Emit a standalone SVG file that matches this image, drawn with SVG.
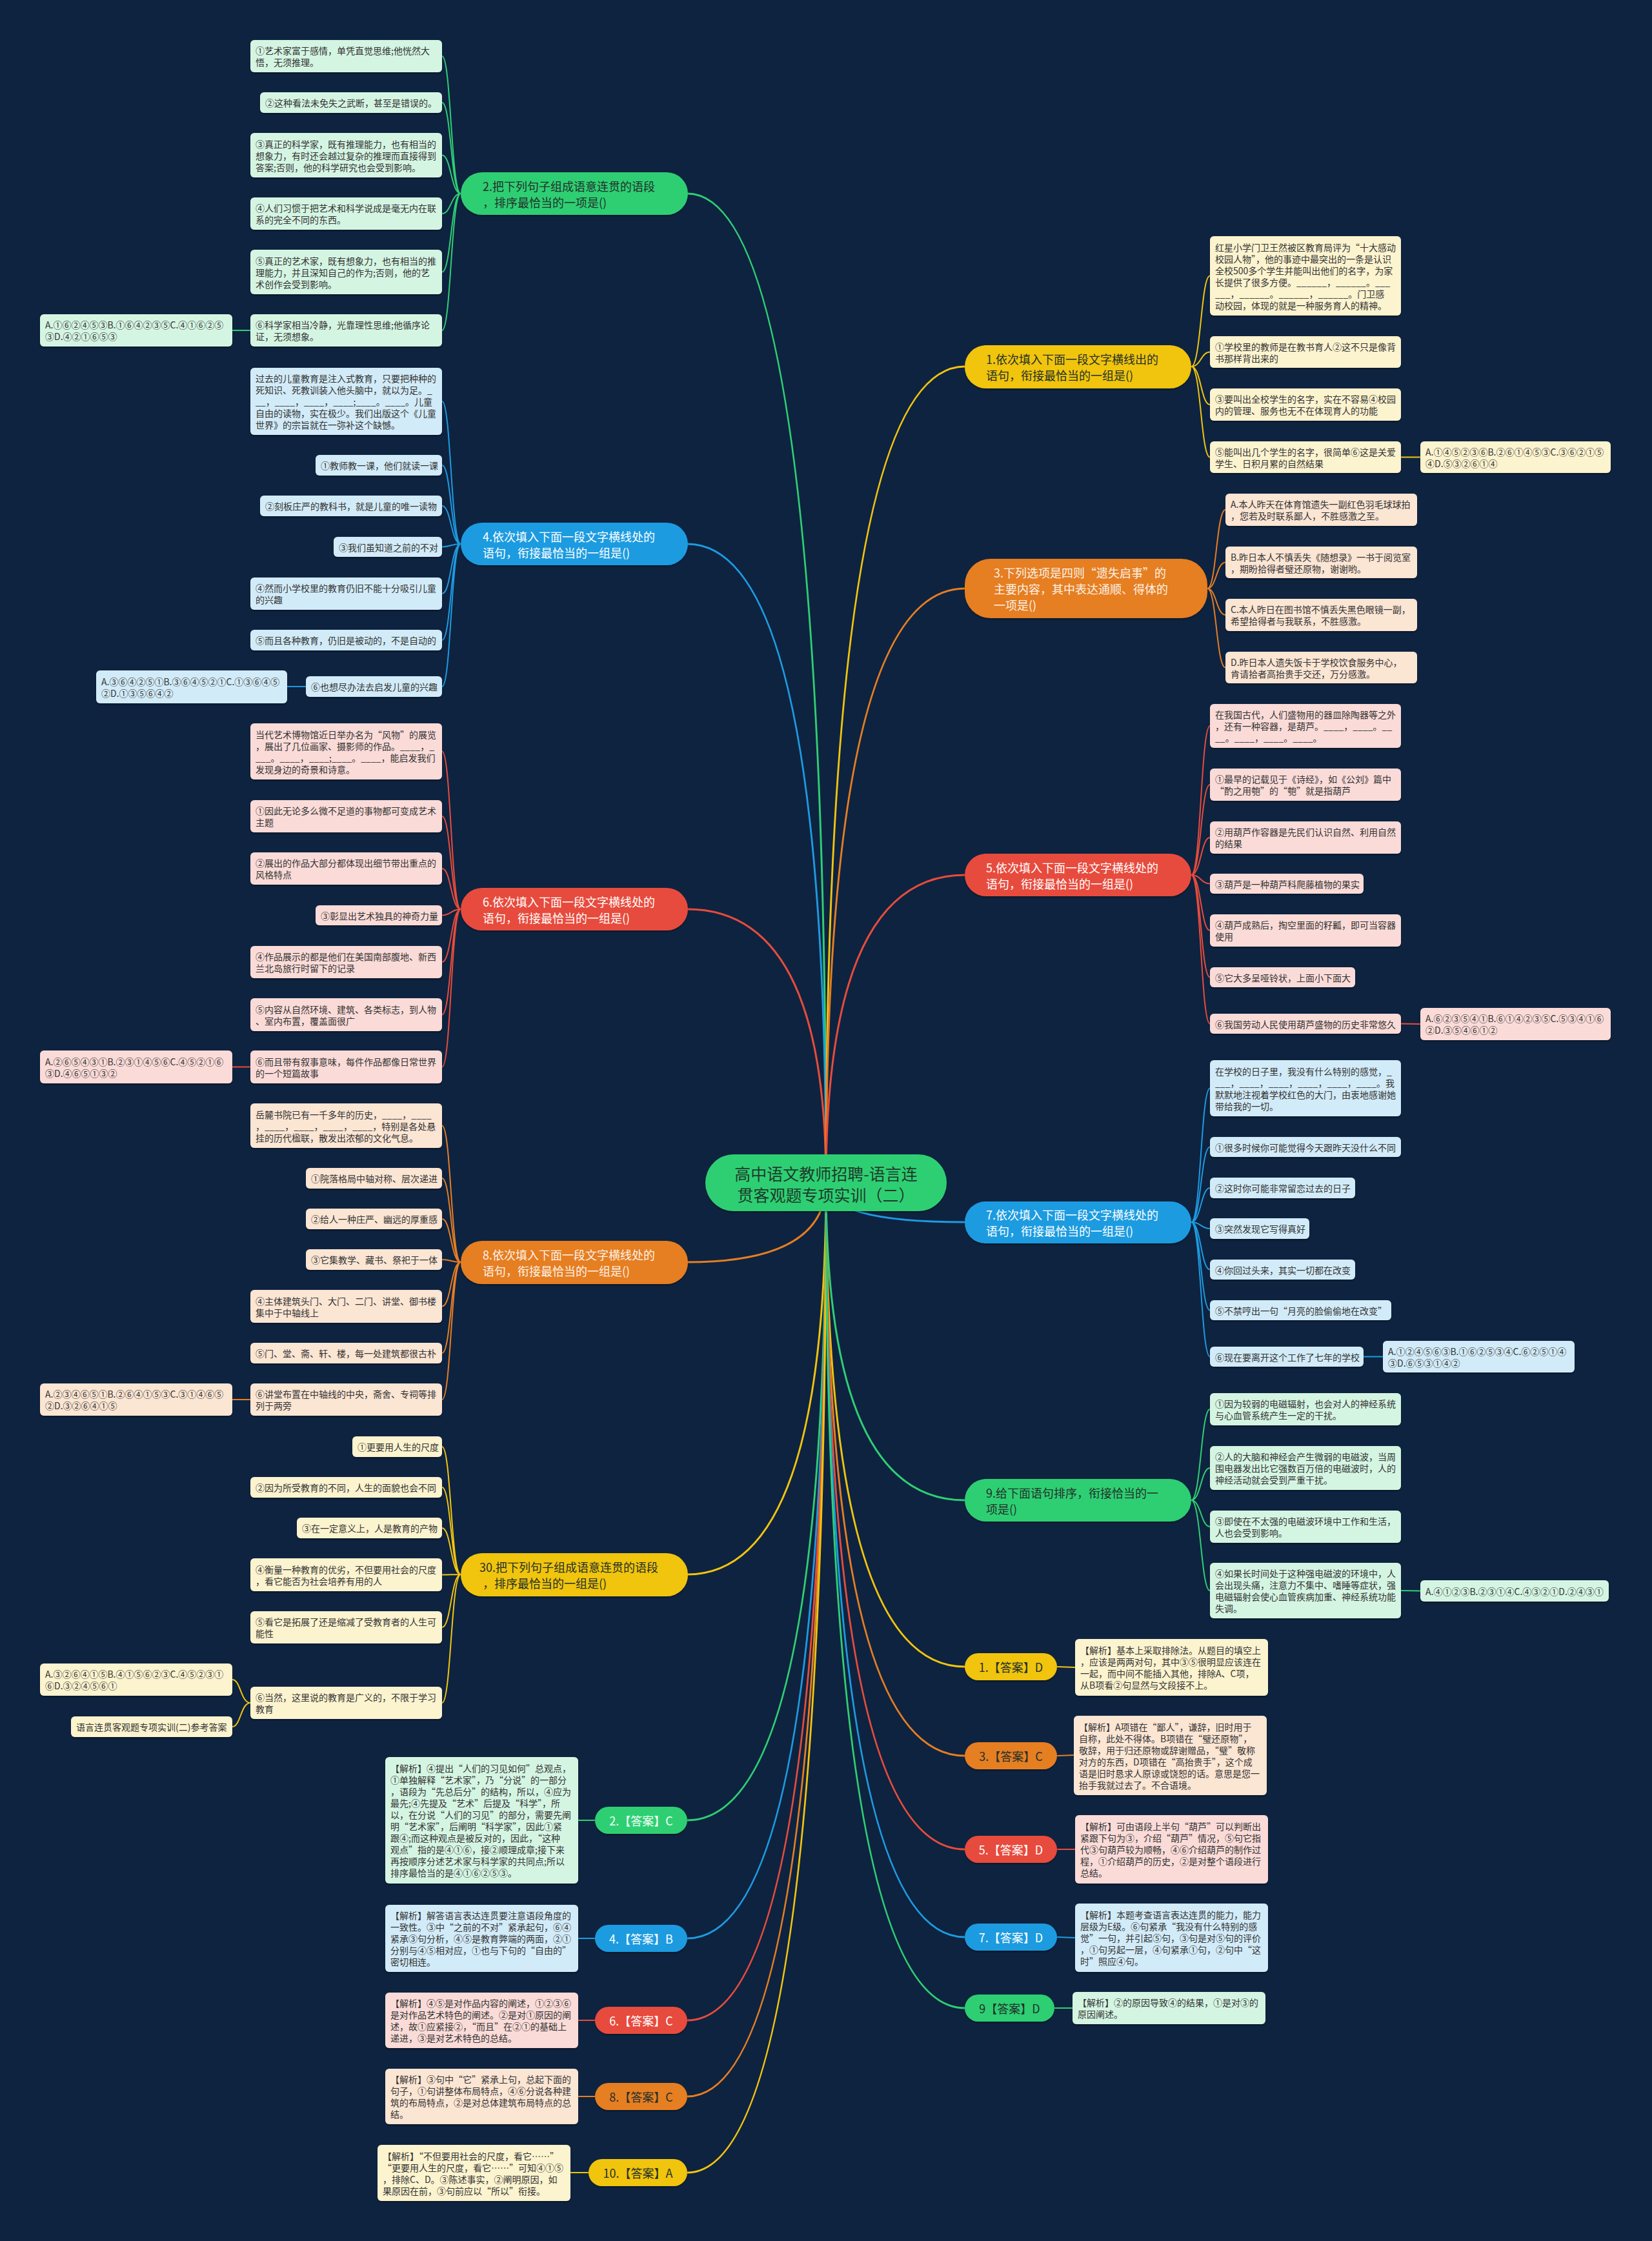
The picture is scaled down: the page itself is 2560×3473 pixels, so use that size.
<svg xmlns="http://www.w3.org/2000/svg" width="2560" height="3473" viewBox="0 0 2560 3473">
<defs>
<filter id="sh" x="-5%" y="-10%" width="110%" height="130%"><feDropShadow dx="0" dy="2" stdDeviation="1.2" flood-color="#000" flood-opacity="0.35"/></filter>
<style>
text{font-family:"Noto Sans CJK SC","Noto Sans",sans-serif;dominant-baseline:central}
.t{font-size:14px;fill:#333}
.e{font-size:14px;fill:#333}
.b{font-size:18px}
.a{font-size:18px;text-anchor:middle}
.c{font-size:25px;fill:#1e3b2a;text-anchor:middle}
.dk{fill:#22302a}
.wt{fill:#ffffff}
.lt{fill:#fbf3e8}
rect{filter:url(#sh)}
.G{fill:#2fcf73}.B{fill:#1d9be0}.R{fill:#e74c3c}.O{fill:#e67e22}.Y{fill:#f1c40f}
.g{fill:#d5f5e3}.bl{fill:#d2ebf8}.r{fill:#fadbd8}.o{fill:#fbe5d3}.y{fill:#fcf3cf}
.k{fill:none;stroke-width:3}
.s{fill:none;stroke-width:2}
.kG{stroke:#2fcf73}.kB{stroke:#1d9be0}.kR{stroke:#e74c3c}.kO{stroke:#e67e22}.kY{stroke:#f1c40f}
</style>
</defs>
<rect x="0" y="0" width="2560" height="3473" fill="#0e2340" style="filter:none"/>

<g id="connectors">
<path class="k kG" d="M1280 1833 Q1280 300 1065 300"/>
<path class="k kB" d="M1280 1833 Q1280 843 1065 843"/>
<path class="k kR" d="M1280 1833 Q1280 1409 1065 1409"/>
<path class="k kO" d="M1280 1833 Q1280 1956 1065 1956"/>
<path class="k kY" d="M1280 1833 Q1280 2440 1065 2440"/>
<path class="k kY" d="M1280 1833 Q1280 568 1495 568"/>
<path class="k kO" d="M1280 1833 Q1280 912 1495 912"/>
<path class="k kR" d="M1280 1833 Q1280 1356 1495 1356"/>
<path class="k kB" d="M1280 1833 Q1280 1894 1495 1894"/>
<path class="k kG" d="M1280 1833 Q1280 2325 1495 2325"/>
<path class="k kG" d="M1280 1833 Q1280 2821 1065 2821"/>
<path class="k kB" d="M1280 1833 Q1280 3004 1065 3004"/>
<path class="k kR" d="M1280 1833 Q1280 3131 1065 3131"/>
<path class="k kO" d="M1280 1833 Q1280 3249 1065 3249"/>
<path class="k kY" d="M1280 1833 Q1280 3367 1065 3367"/>
<path class="k kY" d="M1280 1833 Q1280 2583 1495 2583"/>
<path class="k kO" d="M1280 1833 Q1280 2721 1495 2721"/>
<path class="k kR" d="M1280 1833 Q1280 2866 1495 2866"/>
<path class="k kB" d="M1280 1833 Q1280 3002 1495 3002"/>
<path class="k kG" d="M1280 1833 Q1280 3112 1495 3112"/>

<path class="s kG" d="M714 300 C699 300 699 87 685 87 M714 300 C699 300 699 159 685 159 M714 300 C699 300 699 240.5 685 240.5 M714 300 C699 300 699 331 685 331 M714 300 C699 300 699 421.5 685 421.5 M714 300 C699 300 699 512 685 512 M388 512 L360 512"/>
<path class="s kB" d="M714 843 C699 843 699 622 685 622 M714 843 C699 843 699 721 685 721 M714 843 C699 843 699 784 685 784 M714 843 C699 843 699 847.5 685 847.5 M714 843 C699 843 699 920 685 920 M714 843 C699 843 699 992 685 992 M714 843 C699 843 699 1064 685 1064 M474 1064 L445 1064"/>
<path class="s kR" d="M714 1409 C699 1409 699 1164.5 685 1164.5 M714 1409 C699 1409 699 1265 685 1265 M714 1409 C699 1409 699 1346 685 1346 M714 1409 C699 1409 699 1418.5 685 1418.5 M714 1409 C699 1409 699 1491 685 1491 M714 1409 C699 1409 699 1572.5 685 1572.5 M714 1409 C699 1409 699 1653.5 685 1653.5 M388 1653.5 L360 1653.5"/>
<path class="s kO" d="M714 1956 C699 1956 699 1744.5 685 1744.5 M714 1956 C699 1956 699 1826 685 1826 M714 1956 C699 1956 699 1889 685 1889 M714 1956 C699 1956 699 1952 685 1952 M714 1956 C699 1956 699 2024.5 685 2024.5 M714 1956 C699 1956 699 2097 685 2097 M714 1956 C699 1956 699 2169 685 2169 M388 2169 L360 2169"/>
<path class="s kY" d="M714 2440 C699 2440 699 2242 685 2242 M714 2440 C699 2440 699 2305 685 2305 M714 2440 C699 2440 699 2368 685 2368 M714 2440 C699 2440 699 2440.5 685 2440.5 M714 2440 C699 2440 699 2522 685 2522 M714 2440 C699 2440 699 2639 685 2639 M388 2639 C373 2639 373 2603 360 2603 M388 2639 C373 2639 373 2676 360 2676"/>
<path class="s kY" d="M1846 568 C1861 568 1861 427.5 1875 427.5 M1846 568 C1861 568 1861 545.5 1875 545.5 M1846 568 C1861 568 1861 627 1875 627 M1846 568 C1861 568 1861 708.5 1875 708.5 M2171 708.5 L2201 708.5"/>
<path class="s kO" d="M1871 912 C1885 912 1885 790 1899 790 M1871 912 C1885 912 1885 871.5 1899 871.5 M1871 912 C1885 912 1885 953 1899 953 M1871 912 C1885 912 1885 1034.5 1899 1034.5"/>
<path class="s kR" d="M1846 1356 C1861 1356 1861 1125 1875 1125 M1846 1356 C1861 1356 1861 1216 1875 1216 M1846 1356 C1861 1356 1861 1298 1875 1298 M1846 1356 C1861 1356 1861 1369.5 1875 1369.5 M1846 1356 C1861 1356 1861 1442 1875 1442 M1846 1356 C1861 1356 1861 1514.5 1875 1514.5 M1846 1356 C1861 1356 1861 1586.5 1875 1586.5 M2171 1586.5 L2201 1587"/>
<path class="s kB" d="M1846 1894 C1861 1894 1861 1686.5 1875 1686.5 M1846 1894 C1861 1894 1861 1777.5 1875 1777.5 M1846 1894 C1861 1894 1861 1841 1875 1841 M1846 1894 C1861 1894 1861 1904 1875 1904 M1846 1894 C1861 1894 1861 1967.5 1875 1967.5 M1846 1894 C1861 1894 1861 2030.5 1875 2030.5 M1846 1894 C1861 1894 1861 2102.5 1875 2102.5 M2113 2102.5 L2143 2102.5"/>
<path class="s kG" d="M1846 2325 C1861 2325 1861 2184 1875 2184 M1846 2325 C1861 2325 1861 2275 1875 2275 M1846 2325 C1861 2325 1861 2366 1875 2366 M1846 2325 C1861 2325 1861 2465 1875 2465 M2171 2465 L2201 2465.5"/>

<path class="s kG" d="M922 2821 L896 2821"/>
<path class="s kB" d="M922 3004 L896 3004"/>
<path class="s kR" d="M922 3131 L896 3131"/>
<path class="s kO" d="M922 3249 L896 3249"/>
<path class="s kY" d="M912 3367 L884 3367"/>
<path class="s kY" d="M1638 2583 L1666 2584"/>
<path class="s kO" d="M1638 2721 L1664 2720"/>
<path class="s kR" d="M1638 2866 L1666 2866"/>
<path class="s kB" d="M1638 3002 L1666 3003"/>
<path class="s kG" d="M1634 3112 L1662 3112"/>
</g>

<g id="center">
<rect class="G" x="1093" y="1789" width="374" height="88" rx="44"/>
<text class="c"><tspan x="1280" y="1818">高中语文教师招聘-语言连</tspan><tspan x="1280" y="1851">贯客观题专项实训（二）</tspan></text>
</g>

<!-- Left branches -->
<g id="b2">
<rect class="G" x="714" y="267" width="352" height="66" rx="33"/>
<text class="b dk"><tspan x="748" y="287.5">2.把下列句子组成语意连贯的语段</tspan><tspan x="748" y="312.5">，排序最恰当的一项是()</tspan></text>
</g>
<g id="b4">
<rect class="B" x="714" y="810" width="352" height="66" rx="33"/>
<text class="b wt"><tspan x="748" y="830.5">4.依次填入下面一段文字横线处的</tspan><tspan x="748" y="855.5">语句，衔接最恰当的一组是()</tspan></text>
</g>
<g id="b6">
<rect class="R" x="714" y="1376" width="352" height="66" rx="33"/>
<text class="b wt"><tspan x="748" y="1396.5">6.依次填入下面一段文字横线处的</tspan><tspan x="748" y="1421.5">语句，衔接最恰当的一组是()</tspan></text>
</g>
<g id="b8">
<rect class="O" x="714" y="1923" width="352" height="67" rx="33"/>
<text class="b lt"><tspan x="748" y="1943.5">8.依次填入下面一段文字横线处的</tspan><tspan x="748" y="1968.5">语句，衔接最恰当的一组是()</tspan></text>
</g>
<g id="b10">
<rect class="Y" x="714" y="2407" width="352" height="67" rx="33"/>
<text class="b dk"><tspan x="743" y="2427.5">30.把下列句子组成语意连贯的语段</tspan><tspan x="748" y="2452.5">，排序最恰当的一组是()</tspan></text>
</g>

<!-- Right branches -->
<g id="b1">
<rect class="Y" x="1495" y="535" width="351" height="67" rx="33"/>
<text class="b dk"><tspan x="1528" y="555.5">1.依次填入下面一段文字横线出的</tspan><tspan x="1528" y="580.5">语句，衔接最恰当的一组是()</tspan></text>
</g>
<g id="b3">
<rect class="O" x="1495" y="866" width="376" height="92" rx="40"/>
<text class="b lt"><tspan x="1540" y="887">3.下列选项是四则“遗失启事”的</tspan><tspan x="1540" y="912">主要内容，其中表达通顺、得体的</tspan><tspan x="1540" y="937">一项是()</tspan></text>
</g>
<g id="b5">
<rect class="R" x="1495" y="1323" width="351" height="66" rx="33"/>
<text class="b wt"><tspan x="1528" y="1343.5">5.依次填入下面一段文字横线处的</tspan><tspan x="1528" y="1368.5">语句，衔接最恰当的一组是()</tspan></text>
</g>
<g id="b7">
<rect class="B" x="1495" y="1862" width="351" height="65" rx="32"/>
<text class="b wt"><tspan x="1528" y="1881.5">7.依次填入下面一段文字横线处的</tspan><tspan x="1528" y="1906.5">语句，衔接最恰当的一组是()</tspan></text>
</g>
<g id="b9">
<rect class="G" x="1495" y="2292" width="351" height="66" rx="33"/>
<text class="b dk"><tspan x="1528" y="2312.5">9.给下面语句排序，衔接恰当的一</tspan><tspan x="1528" y="2337.5">项是()</tspan></text>
</g>

<!-- B2 leaves -->
<g id="l2a"><rect class="g" x="388" y="62" width="297" height="50" rx="6"/><text class="t"><tspan x="396" y="78">①艺术家富于感情，单凭直觉思维;他恍然大</tspan><tspan x="396" y="96">悟，无须推理。</tspan></text></g>
<g id="l2b"><rect class="g" x="403" y="143" width="282" height="32" rx="6"/><text class="t"><tspan x="411" y="159">②这种看法未免失之武断，甚至是错误的。</tspan></text></g>
<g id="l2c"><rect class="g" x="388" y="206" width="297" height="69" rx="6"/><text class="t"><tspan x="396" y="222.5">③真正的科学家，既有推理能力，也有相当的</tspan><tspan x="396" y="240.5">想象力，有时还会越过复杂的推理而直接得到</tspan><tspan x="396" y="258.5">答案;否则，他的科学研究也会受到影响。</tspan></text></g>
<g id="l2d"><rect class="g" x="388" y="306" width="297" height="50" rx="6"/><text class="t"><tspan x="396" y="322">④人们习惯于把艺术和科学说成是毫无内在联</tspan><tspan x="396" y="340">系的完全不同的东西。</tspan></text></g>
<g id="l2e"><rect class="g" x="388" y="387" width="297" height="69" rx="6"/><text class="t"><tspan x="396" y="403.5">⑤真正的艺术家，既有想象力，也有相当的推</tspan><tspan x="396" y="421.5">理能力，并且深知自己的作为;否则，他的艺</tspan><tspan x="396" y="439.5">术创作会受到影响。</tspan></text></g>
<g id="l2f"><rect class="g" x="388" y="487" width="297" height="50" rx="6"/><text class="t"><tspan x="396" y="503">⑥科学家相当冷静，光靠理性思维;他循序论</tspan><tspan x="396" y="521">证，无须想象。</tspan></text></g>
<g id="l2g"><rect class="g" x="62" y="487" width="298" height="50" rx="6"/><text class="t"><tspan x="70" y="503">A.①⑥②④⑤③B.①⑥④②③⑤C.④①⑥②⑤</tspan><tspan x="70" y="521">③D.④②①⑥⑤③</tspan></text></g>

<!-- B4 leaves -->
<g id="l4a"><rect class="bl" x="388" y="570" width="297" height="104" rx="6"/><text class="t"><tspan x="396" y="586">过去的儿童教育是注入式教育，只要把种种的</tspan><tspan x="396" y="604">死知识、死教训装入他头脑中，就以为足。_</tspan><tspan x="396" y="622">__，____，____，____;____。____。儿童</tspan><tspan x="396" y="640">自由的读物，实在极少。我们出版这个《儿童</tspan><tspan x="396" y="658">世界》的宗旨就在一弥补这个缺憾。</tspan></text></g>
<g id="l4b"><rect class="bl" x="489" y="705" width="196" height="32" rx="6"/><text class="t"><tspan x="497" y="721">①教师教一课，他们就读一课</tspan></text></g>
<g id="l4c"><rect class="bl" x="403" y="768" width="282" height="32" rx="6"/><text class="t"><tspan x="411" y="784">②刻板庄严的教科书，就是儿童的唯一读物</tspan></text></g>
<g id="l4d"><rect class="bl" x="517" y="832" width="168" height="31" rx="6"/><text class="t"><tspan x="525" y="847.5">③我们虽知道之前的不对</tspan></text></g>
<g id="l4e"><rect class="bl" x="388" y="895" width="297" height="50" rx="6"/><text class="t"><tspan x="396" y="911">④然而小学校里的教育仍旧不能十分吸引儿童</tspan><tspan x="396" y="929">的兴趣</tspan></text></g>
<g id="l4f"><rect class="bl" x="388" y="976" width="297" height="32" rx="6"/><text class="t"><tspan x="396" y="992">⑤而且各种教育，仍旧是被动的，不是自动的</tspan></text></g>
<g id="l4g"><rect class="bl" x="474" y="1048" width="211" height="32" rx="6"/><text class="t"><tspan x="482" y="1064">⑥也想尽办法去启发儿童的兴趣</tspan></text></g>
<g id="l4h"><rect class="bl" x="149" y="1039" width="296" height="51" rx="6"/><text class="t"><tspan x="157" y="1055.5">A.③⑥④②⑤①B.③⑥④⑤②①C.①③⑥④⑤</tspan><tspan x="157" y="1073.5">②D.①③⑤⑥④②</tspan></text></g>

<!-- B6 leaves -->
<g id="l6a"><rect class="r" x="388" y="1121" width="297" height="87" rx="6"/><text class="t"><tspan x="396" y="1137.5">当代艺术博物馆近日举办名为“风物”的展览</tspan><tspan x="396" y="1155.5">，展出了几位画家、摄影师的作品。____，_</tspan><tspan x="396" y="1173.5">___。____，____;____。____，能启发我们</tspan><tspan x="396" y="1191.5">发现身边的奇景和诗意。</tspan></text></g>
<g id="l6b"><rect class="r" x="388" y="1240" width="297" height="50" rx="6"/><text class="t"><tspan x="396" y="1256">①因此无论多么微不足道的事物都可变成艺术</tspan><tspan x="396" y="1274">主题</tspan></text></g>
<g id="l6c"><rect class="r" x="388" y="1321" width="297" height="50" rx="6"/><text class="t"><tspan x="396" y="1337">②展出的作品大部分都体现出细节带出重点的</tspan><tspan x="396" y="1355">风格特点</tspan></text></g>
<g id="l6d"><rect class="r" x="489" y="1403" width="196" height="31" rx="6"/><text class="t"><tspan x="497" y="1418.5">③彰显出艺术独具的神奇力量</tspan></text></g>
<g id="l6e"><rect class="r" x="388" y="1466" width="297" height="50" rx="6"/><text class="t"><tspan x="396" y="1482">④作品展示的都是他们在美国南部腹地、新西</tspan><tspan x="396" y="1500">兰北岛旅行时留下的记录</tspan></text></g>
<g id="l6f"><rect class="r" x="388" y="1547" width="297" height="51" rx="6"/><text class="t"><tspan x="396" y="1563.5">⑤内容从自然环境、建筑、各类标志，到人物</tspan><tspan x="396" y="1581.5">、室内布置，覆盖面很广</tspan></text></g>
<g id="l6g"><rect class="r" x="388" y="1628" width="297" height="51" rx="6"/><text class="t"><tspan x="396" y="1644.5">⑥而且带有叙事意味，每件作品都像日常世界</tspan><tspan x="396" y="1662.5">的一个短篇故事</tspan></text></g>
<g id="l6h"><rect class="r" x="62" y="1628" width="298" height="51" rx="6"/><text class="t"><tspan x="70" y="1644.5">A.②⑥⑤④③①B.②③①④⑤⑥C.④⑤②①⑥</tspan><tspan x="70" y="1662.5">③D.④⑥⑤①③②</tspan></text></g>

<!-- B8 leaves -->
<g id="l8a"><rect class="o" x="388" y="1710" width="297" height="69" rx="6"/><text class="t"><tspan x="396" y="1726.5">岳麓书院已有一千多年的历史，____，____</tspan><tspan x="396" y="1744.5">，____，____，____，____，特别是各处悬</tspan><tspan x="396" y="1762.5">挂的历代楹联，散发出浓郁的文化气息。</tspan></text></g>
<g id="l8b"><rect class="o" x="474" y="1810" width="211" height="32" rx="6"/><text class="t"><tspan x="482" y="1826">①院落格局中轴对称、层次递进</tspan></text></g>
<g id="l8c"><rect class="o" x="474" y="1873" width="211" height="32" rx="6"/><text class="t"><tspan x="482" y="1889">②给人一种庄严、幽远的厚重感</tspan></text></g>
<g id="l8d"><rect class="o" x="474" y="1936" width="211" height="32" rx="6"/><text class="t"><tspan x="482" y="1952">③它集教学、藏书、祭祀于一体</tspan></text></g>
<g id="l8e"><rect class="o" x="388" y="1999" width="297" height="51" rx="6"/><text class="t"><tspan x="396" y="2015.5">④主体建筑头门、大门、二门、讲堂、御书楼</tspan><tspan x="396" y="2033.5">集中于中轴线上</tspan></text></g>
<g id="l8f"><rect class="o" x="388" y="2081" width="297" height="32" rx="6"/><text class="t"><tspan x="396" y="2097">⑤门、堂、斋、轩、楼，每一处建筑都很古朴</tspan></text></g>
<g id="l8g"><rect class="o" x="388" y="2144" width="297" height="50" rx="6"/><text class="t"><tspan x="396" y="2160">⑥讲堂布置在中轴线的中央，斋舍、专祠等排</tspan><tspan x="396" y="2178">列于两旁</tspan></text></g>
<g id="l8h"><rect class="o" x="62" y="2144" width="298" height="50" rx="6"/><text class="t"><tspan x="70" y="2160">A.②③④⑥⑤①B.②⑥④①⑤③C.③①④⑥⑤</tspan><tspan x="70" y="2178">②D.③②⑥④①⑤</tspan></text></g>

<!-- B10 leaves -->
<g id="l10a"><rect class="y" x="546" y="2226" width="139" height="32" rx="6"/><text class="t"><tspan x="554" y="2242">①更要用人生的尺度</tspan></text></g>
<g id="l10b"><rect class="y" x="388" y="2289" width="297" height="32" rx="6"/><text class="t"><tspan x="396" y="2305">②因为所受教育的不同，人生的面貌也会不同</tspan></text></g>
<g id="l10c"><rect class="y" x="460" y="2352" width="225" height="32" rx="6"/><text class="t"><tspan x="468" y="2368">③在一定意义上，人是教育的产物</tspan></text></g>
<g id="l10d"><rect class="y" x="388" y="2415" width="297" height="51" rx="6"/><text class="t"><tspan x="396" y="2431.5">④衡量一种教育的优劣，不但要用社会的尺度</tspan><tspan x="396" y="2449.5">，看它能否为社会培养有用的人</tspan></text></g>
<g id="l10e"><rect class="y" x="388" y="2497" width="297" height="50" rx="6"/><text class="t"><tspan x="396" y="2513">⑤看它是拓展了还是缩减了受教育者的人生可</tspan><tspan x="396" y="2531">能性</tspan></text></g>
<g id="l10f"><rect class="y" x="388" y="2614" width="297" height="50" rx="6"/><text class="t"><tspan x="396" y="2630">⑥当然，这里说的教育是广义的，不限于学习</tspan><tspan x="396" y="2648">教育</tspan></text></g>
<g id="l10g"><rect class="y" x="62" y="2578" width="298" height="50" rx="6"/><text class="t"><tspan x="70" y="2594">A.③②⑥④①⑤B.④①⑤⑥②③C.④⑤②③①</tspan><tspan x="70" y="2612">⑥D.③②④⑤⑥①</tspan></text></g>
<g id="l10h"><rect class="y" x="110" y="2660" width="250" height="32" rx="6"/><text class="t"><tspan x="118" y="2676">语言连贯客观题专项实训(二)参考答案</tspan></text></g>

<!-- B1 leaves -->
<g id="l1a"><rect class="y" x="1875" y="366" width="296" height="123" rx="6"/><text class="t"><tspan x="1883" y="382.5">红星小学门卫王然被区教育局评为“十大感动</tspan><tspan x="1883" y="400.5">校园人物”，他的事迹中最突出的一条是认识</tspan><tspan x="1883" y="418.5">全校500多个学生并能叫出他们的名字，为家</tspan><tspan x="1883" y="436.5">长提供了很多方便。______，______。___</tspan><tspan x="1883" y="454.5">___，______。______，______。门卫感</tspan><tspan x="1883" y="472.5">动校园，体现的就是一种服务育人的精神。</tspan></text></g>
<g id="l1b"><rect class="y" x="1875" y="521" width="296" height="49" rx="6"/><text class="t"><tspan x="1883" y="536.5">①学校里的教师是在教书育人②这不只是像背</tspan><tspan x="1883" y="554.5">书那样背出来的</tspan></text></g>
<g id="l1c"><rect class="y" x="1875" y="602" width="296" height="50" rx="6"/><text class="t"><tspan x="1883" y="618">③要叫出全校学生的名字，实在不容易④校园</tspan><tspan x="1883" y="636">内的管理、服务也无不在体现育人的功能</tspan></text></g>
<g id="l1d"><rect class="y" x="1875" y="684" width="296" height="49" rx="6"/><text class="t"><tspan x="1883" y="699.5">⑤能叫出几个学生的名字，很简单⑥这是关爱</tspan><tspan x="1883" y="717.5">学生、日积月累的自然结果</tspan></text></g>
<g id="l1e"><rect class="y" x="2201" y="684" width="295" height="49" rx="6"/><text class="t"><tspan x="2209" y="699.5">A.①④⑤②③⑥B.②⑥①④⑤③C.③⑥②①⑤</tspan><tspan x="2209" y="717.5">④D.⑤③②⑥①④</tspan></text></g>

<!-- B3 leaves -->
<g id="l3a"><rect class="o" x="1899" y="765" width="297" height="50" rx="6"/><text class="t"><tspan x="1907" y="781">A.本人昨天在体育馆遗失一副红色羽毛球球拍</tspan><tspan x="1907" y="799">，您若及时联系鄙人，不胜感激之至。</tspan></text></g>
<g id="l3b"><rect class="o" x="1899" y="847" width="297" height="49" rx="6"/><text class="t"><tspan x="1907" y="862.5">B.昨日本人不慎丢失《随想录》一书于阅览室</tspan><tspan x="1907" y="880.5">，期盼拾得者璧还原物，谢谢哟。</tspan></text></g>
<g id="l3c"><rect class="o" x="1899" y="928" width="297" height="50" rx="6"/><text class="t"><tspan x="1907" y="944">C.本人昨日在图书馆不慎丢失黑色眼镜一副，</tspan><tspan x="1907" y="962">希望拾得者与我联系，不胜感激。</tspan></text></g>
<g id="l3d"><rect class="o" x="1899" y="1010" width="297" height="49" rx="6"/><text class="t"><tspan x="1907" y="1025.5">D.昨日本人遗失饭卡于学校饮食服务中心，</tspan><tspan x="1907" y="1043.5">肯请拾者高抬贵手交还，万分感激。</tspan></text></g>

<!-- B5 leaves -->
<g id="l5a"><rect class="r" x="1875" y="1091" width="296" height="68" rx="6"/><text class="t"><tspan x="1883" y="1107">在我国古代，人们盛物用的器皿除陶器等之外</tspan><tspan x="1883" y="1125">，还有一种容器，是葫芦。____，____。__</tspan><tspan x="1883" y="1143">__。____，____。____。</tspan></text></g>
<g id="l5b"><rect class="r" x="1875" y="1191" width="296" height="50" rx="6"/><text class="t"><tspan x="1883" y="1207">①最早的记载见于《诗经》，如《公刘》篇中</tspan><tspan x="1883" y="1225">“酌之用匏”的“匏”就是指葫芦</tspan></text></g>
<g id="l5c"><rect class="r" x="1875" y="1273" width="296" height="50" rx="6"/><text class="t"><tspan x="1883" y="1289">②用葫芦作容器是先民们认识自然、利用自然</tspan><tspan x="1883" y="1307">的结果</tspan></text></g>
<g id="l5d"><rect class="r" x="1875" y="1354" width="238" height="31" rx="6"/><text class="t"><tspan x="1883" y="1369.5">③葫芦是一种葫芦科爬藤植物的果实</tspan></text></g>
<g id="l5e"><rect class="r" x="1875" y="1417" width="296" height="50" rx="6"/><text class="t"><tspan x="1883" y="1433">④葫芦成熟后，掏空里面的籽瓤，即可当容器</tspan><tspan x="1883" y="1451">使用</tspan></text></g>
<g id="l5f"><rect class="r" x="1875" y="1499" width="225" height="31" rx="6"/><text class="t"><tspan x="1883" y="1514.5">⑤它大多呈哑铃状，上面小下面大</tspan></text></g>
<g id="l5g"><rect class="r" x="1875" y="1571" width="296" height="31" rx="6"/><text class="t"><tspan x="1883" y="1586.5">⑥我国劳动人民使用葫芦盛物的历史非常悠久</tspan></text></g>
<g id="l5h"><rect class="r" x="2201" y="1562" width="295" height="50" rx="6"/><text class="t"><tspan x="2209" y="1578">A.⑥②③⑤④①B.⑥①④②③⑤C.⑤③④①⑥</tspan><tspan x="2209" y="1596">②D.③⑤④⑥①②</tspan></text></g>

<!-- B7 leaves -->
<g id="l7a"><rect class="bl" x="1875" y="1643" width="296" height="87" rx="6"/><text class="t"><tspan x="1883" y="1659.5">在学校的日子里，我没有什么特别的感觉，_</tspan><tspan x="1883" y="1677.5">___，____，____，____，____，____。我</tspan><tspan x="1883" y="1695.5">默默地注视着学校红色的大门，由衷地感谢她</tspan><tspan x="1883" y="1713.5">带给我的一切。</tspan></text></g>
<g id="l7b"><rect class="bl" x="1875" y="1762" width="296" height="31" rx="6"/><text class="t"><tspan x="1883" y="1777.5">①很多时候你可能觉得今天跟昨天没什么不同</tspan></text></g>
<g id="l7c"><rect class="bl" x="1875" y="1825" width="225" height="32" rx="6"/><text class="t"><tspan x="1883" y="1841">②这时你可能非常留恋过去的日子</tspan></text></g>
<g id="l7d"><rect class="bl" x="1875" y="1888" width="154" height="32" rx="6"/><text class="t"><tspan x="1883" y="1904">③突然发现它写得真好</tspan></text></g>
<g id="l7e"><rect class="bl" x="1875" y="1952" width="225" height="31" rx="6"/><text class="t"><tspan x="1883" y="1967.5">④你回过头来，其实一切都在改变</tspan></text></g>
<g id="l7f"><rect class="bl" x="1875" y="2015" width="281" height="31" rx="6"/><text class="t"><tspan x="1883" y="2030.5">⑤不禁哼出一句“月亮的脸偷偷地在改变”</tspan></text></g>
<g id="l7g"><rect class="bl" x="1875" y="2087" width="238" height="31" rx="6"/><text class="t"><tspan x="1883" y="2102.5">⑥现在要离开这个工作了七年的学校</tspan></text></g>
<g id="l7h"><rect class="bl" x="2143" y="2078" width="297" height="49" rx="6"/><text class="t"><tspan x="2151" y="2093.5">A.①②④⑤⑥③B.①⑥②⑤③④C.⑥②⑤①④</tspan><tspan x="2151" y="2111.5">③D.⑥⑤③①④②</tspan></text></g>

<!-- B9 leaves -->
<g id="l9a"><rect class="g" x="1875" y="2159" width="296" height="50" rx="6"/><text class="t"><tspan x="1883" y="2175">①因为较弱的电磁辐射，也会对人的神经系统</tspan><tspan x="1883" y="2193">与心血管系统产生一定的干扰。</tspan></text></g>
<g id="l9b"><rect class="g" x="1875" y="2241" width="296" height="68" rx="6"/><text class="t"><tspan x="1883" y="2257">②人的大脑和神经会产生微弱的电磁波，当周</tspan><tspan x="1883" y="2275">围电器发出比它强数百万倍的电磁波时，人的</tspan><tspan x="1883" y="2293">神经活动就会受到严重干扰。</tspan></text></g>
<g id="l9c"><rect class="g" x="1875" y="2341" width="296" height="50" rx="6"/><text class="t"><tspan x="1883" y="2357">③即使在不太强的电磁波环境中工作和生活，</tspan><tspan x="1883" y="2375">人也会受到影响。</tspan></text></g>
<g id="l9d"><rect class="g" x="1875" y="2422" width="296" height="86" rx="6"/><text class="t"><tspan x="1883" y="2438">④如果长时间处于这种强电磁波的环境中，人</tspan><tspan x="1883" y="2456">会出现头痛，注意力不集中、嗜睡等症状，强</tspan><tspan x="1883" y="2474">电磁辐射会使心血管疾病加重、神经系统功能</tspan><tspan x="1883" y="2492">失调。</tspan></text></g>
<g id="l9e"><rect class="g" x="2201" y="2449" width="292" height="33" rx="6"/><text class="t"><tspan x="2209" y="2465.5">A.④①②③B.②③①④C.④③②①D.②④③①</tspan></text></g>

<!-- Left answers -->
<g id="a2"><rect class="G" x="922" y="2800" width="143" height="42" rx="21"/><text class="a" fill="#f2fff7" x="993.5" y="2821">2.【答案】C</text></g>
<g id="a4"><rect class="B" x="922" y="2983" width="143" height="42" rx="21"/><text class="a wt" x="993.5" y="3004">4.【答案】B</text></g>
<g id="a6"><rect class="R" x="922" y="3110" width="143" height="42" rx="21"/><text class="a wt" x="993.5" y="3131">6.【答案】C</text></g>
<g id="a8"><rect class="O" x="922" y="3228" width="143" height="42" rx="21"/><text class="a dk" x="993.5" y="3249">8.【答案】C</text></g>
<g id="a10"><rect class="Y" x="912" y="3346" width="153" height="42" rx="21"/><text class="a dk" x="988.5" y="3367">10.【答案】A</text></g>

<g id="e2"><rect class="g" x="597" y="2723" width="299" height="196" rx="6"/><text class="e"><tspan x="605" y="2740">【解析】④提出“人们的习见如何”总观点，</tspan><tspan x="605" y="2758">①单独解释“艺术家”，乃“分说”的一部分</tspan><tspan x="605" y="2776">，语段为“先总后分”的结构，所以，④应为</tspan><tspan x="605" y="2794">最先;④先提及“艺术”后提及“科学”，所</tspan><tspan x="605" y="2812">以，在分说“人们的习见”的部分，需要先阐</tspan><tspan x="605" y="2830">明“艺术家”，后阐明“科学家”，因此①紧</tspan><tspan x="605" y="2848">跟④;而这种观点是被反对的，因此，“这种</tspan><tspan x="605" y="2866">观点”指的是④①⑥，接②顺理成章;接下来</tspan><tspan x="605" y="2884">再按顺序分述艺术家与科学家的共同点;所以</tspan><tspan x="605" y="2902">排序最恰当的是④①⑥②⑤③。</tspan></text></g>
<g id="e4"><rect class="bl" x="597" y="2952" width="299" height="104" rx="6"/><text class="e"><tspan x="605" y="2968">【解析】解答语言表达连贯要注意语段角度的</tspan><tspan x="605" y="2986">一致性。③中“之前的不对”紧承起句，⑥④</tspan><tspan x="605" y="3004">紧承③句分析，④⑤是教育弊端的两面，②①</tspan><tspan x="605" y="3022">分别与④⑤相对应，①也与下句的“自由的”</tspan><tspan x="605" y="3040">密切相连。</tspan></text></g>
<g id="e6"><rect class="r" x="597" y="3088" width="299" height="86" rx="6"/><text class="e"><tspan x="605" y="3104">【解析】④⑤是对作品内容的阐述，①②③⑥</tspan><tspan x="605" y="3122">是对作品艺术特色的阐述。②是对①原因的阐</tspan><tspan x="605" y="3140">述，故①应紧接②，“而且”在②①的基础上</tspan><tspan x="605" y="3158">递进，③是对艺术特色的总结。</tspan></text></g>
<g id="e8"><rect class="o" x="597" y="3206" width="299" height="86" rx="6"/><text class="e"><tspan x="605" y="3222">【解析】③句中“它”紧承上句，总起下面的</tspan><tspan x="605" y="3240">句子，①句讲整体布局特点，④⑥分说各种建</tspan><tspan x="605" y="3258">筑的布局特点，②是对总体建筑布局特点的总</tspan><tspan x="605" y="3276">结。</tspan></text></g>
<g id="e10"><rect class="y" x="585" y="3324" width="299" height="87" rx="6"/><text class="e"><tspan x="593" y="3340.5">【解析】“不但要用社会的尺度，看它……”</tspan><tspan x="593" y="3358.5">“更要用人生的尺度，看它……”可知④①⑤</tspan><tspan x="593" y="3376.5">，排除C、D。③陈述事实，②阐明原因，如</tspan><tspan x="593" y="3394.5">果原因在前，③句前应以“所以”衔接。</tspan></text></g>

<!-- Right answers -->
<g id="a1"><rect class="Y" x="1495" y="2562" width="143" height="42" rx="21"/><text class="a dk" x="1566.5" y="2583">1.【答案】D</text></g>
<g id="a3"><rect class="O" x="1495" y="2700" width="143" height="42" rx="21"/><text class="a dk" x="1566.5" y="2721">3.【答案】C</text></g>
<g id="a5"><rect class="R" x="1495" y="2845" width="143" height="42" rx="21"/><text class="a wt" x="1566.5" y="2866">5.【答案】D</text></g>
<g id="a7"><rect class="B" x="1495" y="2981" width="143" height="42" rx="21"/><text class="a wt" x="1566.5" y="3002">7.【答案】D</text></g>
<g id="a9"><rect class="G" x="1495" y="3091" width="139" height="42" rx="21"/><text class="a dk" x="1564.5" y="3112">9【答案】D</text></g>

<g id="e1"><rect class="y" x="1666" y="2540" width="299" height="88" rx="6"/><text class="e"><tspan x="1674" y="2557">【解析】基本上采取排除法。从题目的填空上</tspan><tspan x="1674" y="2575">，应该是两两对句，其中③⑤很明显应该连在</tspan><tspan x="1674" y="2593">一起，而中间不能插入其他，排除A、C项，</tspan><tspan x="1674" y="2611">从B项看②句显然与文段接不上。</tspan></text></g>
<g id="e3"><rect class="o" x="1664" y="2659" width="299" height="123" rx="6"/><text class="e"><tspan x="1672" y="2675.5">【解析】A项错在“鄙人”，谦辞，旧时用于</tspan><tspan x="1672" y="2693.5">自称，此处不得体。B项错在“璧还原物”，</tspan><tspan x="1672" y="2711.5">敬辞，用于归还原物或辞谢赠品，“璧”敬称</tspan><tspan x="1672" y="2729.5">对方的东西，D项错在“高抬贵手”，这个成</tspan><tspan x="1672" y="2747.5">语是旧时恳求人原谅或饶恕的话。意思是您一</tspan><tspan x="1672" y="2765.5">抬手我就过去了。不合语境。</tspan></text></g>
<g id="e5"><rect class="r" x="1666" y="2813" width="299" height="106" rx="6"/><text class="e"><tspan x="1674" y="2830">【解析】可由语段上半句“葫芦”可以判断出</tspan><tspan x="1674" y="2848">紧跟下句为③，介绍“葫芦”情况，⑤句它指</tspan><tspan x="1674" y="2866">代③句葫芦较为顺畅，④⑥介绍葫芦的制作过</tspan><tspan x="1674" y="2884">程，①介绍葫芦的历史，②是对整个语段进行</tspan><tspan x="1674" y="2902">总结。</tspan></text></g>
<g id="e7"><rect class="bl" x="1666" y="2950" width="299" height="106" rx="6"/><text class="e"><tspan x="1674" y="2967">【解析】本题考查语言表达连贯的能力，能力</tspan><tspan x="1674" y="2985">层级为E级。⑥句紧承“我没有什么特别的感</tspan><tspan x="1674" y="3003">觉”一句，并引起⑤句，③句是对⑤句的评价</tspan><tspan x="1674" y="3021">，①句另起一层，④句紧承①句，②句中“这</tspan><tspan x="1674" y="3039">时”照应④句。</tspan></text></g>
<g id="e9"><rect class="g" x="1662" y="3087" width="299" height="50" rx="6"/><text class="e"><tspan x="1670" y="3103">【解析】②的原因导致④的结果，①是对③的</tspan><tspan x="1670" y="3121">原因阐述。</tspan></text></g>
</svg>
